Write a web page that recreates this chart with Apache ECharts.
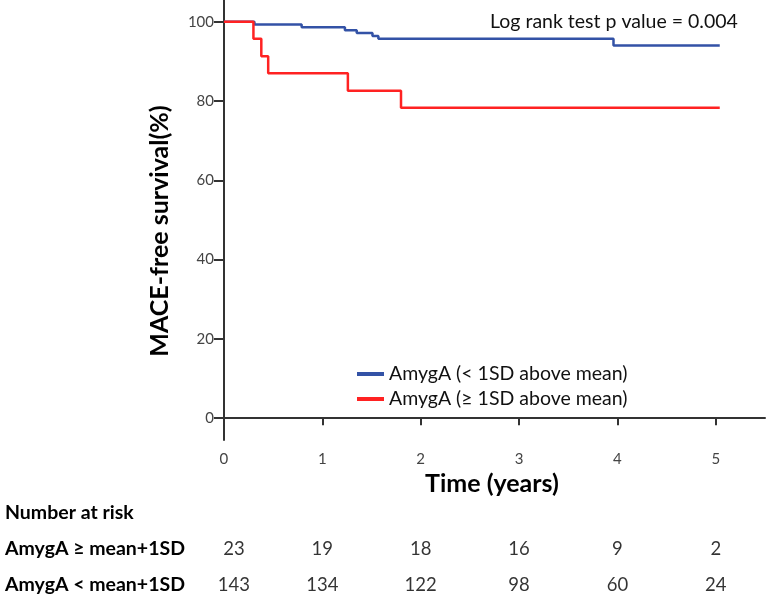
<!DOCTYPE html>
<html>
<head>
<meta charset="utf-8">
<script src="https://cdn.jsdelivr.net/npm/echarts@6/dist/echarts.min.js"></script>
<style>html,body{margin:0;padding:0;background:#fff}#c{width:772px;height:603px}</style>
</head>
<body>
<div id="c"></div>
<script>
// Kaplan-Meier step points (time in years, survival %)
var blueTimes = [0, 0.31, 0.79, 1.23, 1.35, 1.51, 1.57, 3.96, 5.04];
var blueSurv  = [100, 99.3, 98.6, 97.9, 97.2, 96.4, 95.7, 94.0, 94.0];
var redTimes  = [0, 0.30, 0.38, 0.45, 1.26, 1.80, 5.04];
var redSurv   = [100, 95.7, 91.3, 87.0, 82.6, 78.3, 78.3];
var seriesNames = ['AmygA (< 1SD above mean)', 'AmygA (\u2265 1SD above mean)'];
var yTicks = [0, 20, 40, 60, 80, 100];
var xTicks = [0, 1, 2, 3, 4, 5];
// Number at risk table
var riskRows = ['Number at risk', 'AmygA \u2265 mean+1SD', 'AmygA < mean+1SD'];
var riskTimes = [0, 1, 2, 3, 4, 5];
var riskHigh = [23, 19, 18, 16, 9, 2];
var riskLow  = [143, 134, 122, 98, 60, 24];
var pText = 'Log rank test p value = 0.004';

var FONT = 'Lato, "Noto Sans", sans-serif';
function pairs(xs, ys){ return xs.map(function(x,i){ return [x, ys[i]]; }); }
var riskData = [];
function addRow(row, vals){
  riskTimes.forEach(function(t,i){
    var item = { value: [t, row, vals[i]] };
    if (i === 0) item.label = { offset: [10, 0] };
    riskData.push(item);
  });
}
addRow(riskRows[1], riskHigh);
addRow(riskRows[2], riskLow);

var chart = echarts.init(document.getElementById('c'));
chart.setOption({
  animation: false,
  textStyle: { fontFamily: FONT },
  title: { text: pText, left: 485, top: 7, textStyle: { fontFamily: FONT, fontSize: 19.5, fontWeight: 'normal', color: '#111' } },
  legend: {
    orient: 'vertical', left: 352, top: 359,
    itemWidth: 27, itemHeight: 4, itemGap: 5, icon: 'rect',
    textStyle: { fontFamily: FONT, fontSize: 19.5, color: '#111', lineHeight: 20 },
    data: seriesNames
  },
  grid: [
    { left: 219, right: 7, top: 0, height: 440 },
    { left: 219, right: 7, top: 495, height: 109.5 }
  ],
  xAxis: [
    { type: 'value', gridIndex: 0, min: -0.05, max: 5.5,
      axisLine: { lineStyle: { color: '#333', width: 2 } },
      axisTick: { show: true, length: 7, lineStyle: { color: '#333', width: 2 }, customValues: xTicks },
      axisLabel: { color: '#444', fontSize: 15, margin: 12, customValues: xTicks },
      splitLine: { show: false },
      name: 'Time (years)', nameLocation: 'middle', nameGap: 31,
      nameTextStyle: { fontFamily: FONT, fontSize: 25, fontWeight: 'bold', color: '#000' }
    },
    { type: 'value', gridIndex: 1, min: -0.05, max: 5.5, show: false }
  ],
  yAxis: [
    { type: 'value', gridIndex: 0, min: -5.5, max: 105.5,
      axisLine: { show: true, lineStyle: { color: '#333', width: 2 } },
      axisTick: { show: true, length: 10, lineStyle: { color: '#333', width: 2 }, customValues: yTicks },
      axisLabel: { color: '#444', fontSize: 15, margin: 5, customValues: yTicks },
      splitLine: { show: false },
      name: 'MACE-free survival(%)', nameLocation: 'middle', nameGap: 47, nameRotate: 90,
      nameTextStyle: { fontFamily: FONT, fontSize: 25, fontWeight: 'bold', color: '#000', padding: [0, 22, 0, 0] }
    },
    { type: 'category', gridIndex: 1, inverse: true, data: riskRows,
      axisLine: { show: false }, axisTick: { show: false },
      axisLabel: { align: 'left', margin: 214, fontFamily: FONT, fontSize: 19.5, fontWeight: 'bold', color: '#000' }
    }
  ],
  series: [
    { name: seriesNames[0], type: 'line', step: 'end', xAxisIndex: 0, yAxisIndex: 0,
      data: pairs(blueTimes, blueSurv), symbol: 'none', color: '#3352a6',
      lineStyle: { color: '#3352a6', width: 2.5 } },
    { name: seriesNames[1], type: 'line', step: 'end', xAxisIndex: 0, yAxisIndex: 0,
      data: pairs(redTimes, redSurv), symbol: 'none', color: '#ff2222',
      lineStyle: { color: '#ff2222', width: 2.5 } },
    { type: 'scatter', xAxisIndex: 1, yAxisIndex: 1, data: riskData, symbolSize: 0,
      silent: true,
      label: { show: true, position: 'inside', fontFamily: FONT, fontSize: 18.5, color: '#000',
        formatter: function(p){ return String(p.value[2]); } } }
  ]
});
</script>
</body>
</html>
